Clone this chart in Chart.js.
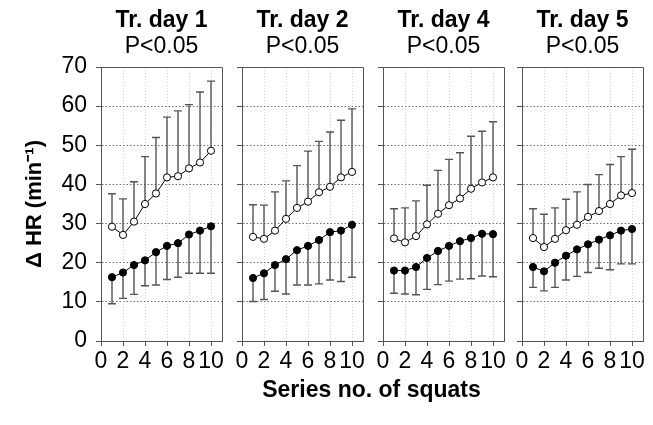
<!DOCTYPE html>
<html>
<head>
<meta charset="utf-8">
<script src="https://cdn.jsdelivr.net/npm/chart.js@4.4.1/dist/chart.umd.min.js"></script>
<style>
html, body { margin: 0; padding: 0; background: #fff; }
#wrap { position: relative; width: 653px; height: 425px; overflow: hidden; }
#wrap canvas { position: absolute; left: 0; top: 0; }
#xtitle {
	position: absolute; left: 101px; width: 541px; top: 376px;
	text-align: center; color: #000;
	font: bold 23px "Liberation Sans", Arial, sans-serif;
}
</style>
</head>
<body>
<div id="wrap">
	<canvas id="c0" width="653" height="425"></canvas>
	<canvas id="c1" width="653" height="425"></canvas>
	<canvas id="c2" width="653" height="425"></canvas>
	<canvas id="c3" width="653" height="425"></canvas>
	<div id="xtitle">Series no. of squats</div>
</div>
<script>
'use strict';

// series number of squats (x)
var seriesNo = [1, 2, 3, 4, 5, 6, 7, 8, 9, 10];
var dayTitles = ['Tr. day 1', 'Tr. day 2', 'Tr. day 4', 'Tr. day 5'];
var pLabels = ['P<0.05', 'P<0.05', 'P<0.05', 'P<0.05'];

// open circles: mean and SD (bar drawn upward)
var day1Open = [29.2, 27.1, 30.5, 35.0, 37.7, 41.8, 42.1, 44.1, 45.6, 48.6];
var day1OpenSd = [8.4, 9.2, 10.2, 12.1, 14.3, 15.4, 16.7, 16.3, 18.0, 17.8];
var day2Open = [26.6, 26.1, 28.2, 31.2, 34.0, 35.6, 38.0, 39.4, 41.8, 43.2];
var day2OpenSd = [8.2, 8.6, 9.9, 9.7, 10.8, 12.9, 13.0, 14.0, 14.6, 16.1];
var day4Open = [26.2, 25.2, 26.8, 29.8, 32.5, 34.7, 36.4, 38.9, 40.5, 41.8];
var day4OpenSd = [7.6, 8.8, 9.0, 10.0, 11.1, 11.7, 11.7, 13.4, 13.1, 14.2];
var day5Open = [26.3, 24.0, 26.1, 28.3, 29.7, 31.7, 33.2, 35.0, 37.2, 37.8];
var day5OpenSd = [7.5, 8.4, 7.9, 7.9, 8.4, 8.3, 9.3, 10.1, 9.9, 11.2];

// filled circles: mean and SD (bar drawn downward)
var day1Filled = [16.3, 17.5, 19.4, 20.6, 22.7, 24.3, 25.0, 27.2, 28.2, 29.3];
var day1FilledSd = [6.8, 6.6, 7.5, 6.5, 8.4, 8.6, 8.7, 9.9, 10.9, 12.0];
var day2Filled = [16.1, 17.3, 19.4, 20.9, 23.2, 24.3, 25.8, 27.8, 28.2, 29.7];
var day2FilledSd = [6.0, 6.7, 6.7, 8.9, 8.9, 10.0, 11.2, 12.2, 13.0, 13.4];
var day4Filled = [18.0, 18.0, 18.9, 21.2, 23.0, 24.3, 25.5, 26.3, 27.4, 27.3];
var day4FilledSd = [5.8, 6.0, 7.1, 8.0, 8.6, 9.0, 9.7, 10.4, 10.8, 10.9];
var day5Filled = [18.9, 17.8, 20.0, 21.8, 23.4, 24.7, 25.9, 27.0, 28.2, 28.6];
var day5FilledSd = [5.2, 5.0, 6.3, 6.2, 6.9, 7.2, 7.3, 8.8, 8.5, 8.9];

var FONT = '"Liberation Sans", Arial, sans-serif';
var W = 653, H = 425;
var panelLeft = [101, 242, 383, 522],
	panelWidth = 121,
	plotTop = 67,
	xAxisHeight = 60,
	plotBottom = 341;

var panels = [
	[day1Open, day1OpenSd, day1Filled, day1FilledSd],
	[day2Open, day2OpenSd, day2Filled, day2FilledSd],
	[day4Open, day4OpenSd, day4Filled, day4FilledSd],
	[day5Open, day5OpenSd, day5Filled, day5FilledSd]
];

function toPoints(values) {
	return seriesNo.map(function (x, i) {
		return { x: x, y: values[i] };
	});
}

// SD whiskers, drawn under the lines and markers
var errorBars = {
	id: 'errorBars',
	beforeDatasetsDraw: function (chart) {
		var ctx = chart.ctx,
			yScale = chart.scales.y;
		ctx.save();
		ctx.strokeStyle = '#555';
		ctx.lineWidth = 1.4;
		chart.data.datasets.forEach(function (ds, i) {
			chart.getDatasetMeta(i).data.forEach(function (pt, j) {
				var end = yScale.getPixelForValue(ds.data[j].y + ds.errorDir * ds.errors[j]);
				ctx.beginPath();
				ctx.moveTo(pt.x, pt.y);
				ctx.lineTo(pt.x, end);
				ctx.moveTo(pt.x - 4, end);
				ctx.lineTo(pt.x + 4, end);
				ctx.stroke();
			});
		});
		ctx.restore();
	}
};

// top and right edges of the frame
var frame = {
	id: 'frame',
	beforeDatasetsDraw: function (chart) {
		var a = chart.chartArea, ctx = chart.ctx;
		ctx.save();
		ctx.strokeStyle = '#555';
		ctx.lineWidth = 1;
		ctx.beginPath();
		ctx.moveTo(a.left, a.top + 0.5);
		ctx.lineTo(a.right + 0.5, a.top + 0.5);
		ctx.lineTo(a.right + 0.5, a.bottom);
		ctx.stroke();
		ctx.restore();
	}
};

// two-line heading above each panel
var panelTitle = {
	id: 'panelTitle',
	afterDraw: function (chart, args, opts) {
		var a = chart.chartArea, ctx = chart.ctx,
			cx = (a.left + a.right) / 2;
		ctx.save();
		ctx.fillStyle = '#000';
		ctx.textAlign = 'center';
		ctx.textBaseline = 'alphabetic';
		ctx.font = 'bold 23px ' + FONT;
		ctx.fillText(opts.title, cx, 27);
		ctx.font = '23px ' + FONT;
		ctx.fillText(opts.sub, cx, 53);
		ctx.restore();
	}
};

panels.forEach(function (p, k) {
	var first = k === 0,
		yWidth = first ? panelLeft[0] : 5;

	new Chart(document.getElementById('c' + k), {
		type: 'scatter',
		data: {
			datasets: [{
				data: toPoints(p[0]),
				errors: p[1],
				errorDir: 1,
				showLine: true,
				borderColor: '#000',
				borderWidth: 1,
				pointRadius: 3.6,
				pointBackgroundColor: '#fff',
				pointBorderColor: '#000',
				pointBorderWidth: 1
			}, {
				data: toPoints(p[2]),
				errors: p[3],
				errorDir: -1,
				showLine: true,
				borderColor: '#000',
				borderWidth: 1,
				pointRadius: 3.6,
				pointBackgroundColor: '#000',
				pointBorderColor: '#000',
				pointBorderWidth: 1
			}]
		},
		options: {
			responsive: false,
			animation: false,
			events: [],
			devicePixelRatio: 1,
			layout: {
				padding: {
					left: panelLeft[k] - yWidth,
					right: W - panelLeft[k] - panelWidth,
					top: plotTop,
					bottom: H - plotBottom - xAxisHeight
				}
			},
			plugins: {
				legend: { display: false },
				tooltip: { enabled: false },
				panelTitle: { title: dayTitles[k], sub: pLabels[k] }
			},
			scales: {
				x: {
					type: 'linear',
					min: 0,
					max: 11,
					ticks: {
						stepSize: 2,
						includeBounds: false,
						autoSkip: false,
						maxRotation: 0,
						minRotation: 0,
						padding: 2,
						color: '#000',
						font: { family: FONT, size: 23 }
					},
					grid: {
						color: '#cdcdcd',
						lineWidth: 1,
						tickLength: 5,
						tickColor: '#555',
						tickWidth: 1
					},
					border: { color: '#555', width: 1, dash: [1, 2] },
					afterFit: function (s) { s.height = xAxisHeight; }
				},
				y: {
					min: 0,
					max: 70,
					ticks: {
						display: first,
						stepSize: 10,
						padding: 9,
						color: '#000',
						font: { family: FONT, size: 23 }
					},
					grid: {
						color: '#707070',
						lineWidth: 1,
						tickLength: 5,
						tickColor: '#555',
						tickWidth: 1
					},
					border: { color: '#555', width: 1, dash: [1.5, 2] },
					title: {
						display: first,
						text: 'Δ HR (min⁻¹)',
						color: '#000',
						font: { family: FONT, size: 22, weight: 'bold' },
						padding: { top: 22, bottom: 0 }
					},
					afterFit: function (s) { s.width = yWidth; }
				}
			}
		},
		plugins: [errorBars, frame, panelTitle]
	});
});
</script>
</body>
</html>
